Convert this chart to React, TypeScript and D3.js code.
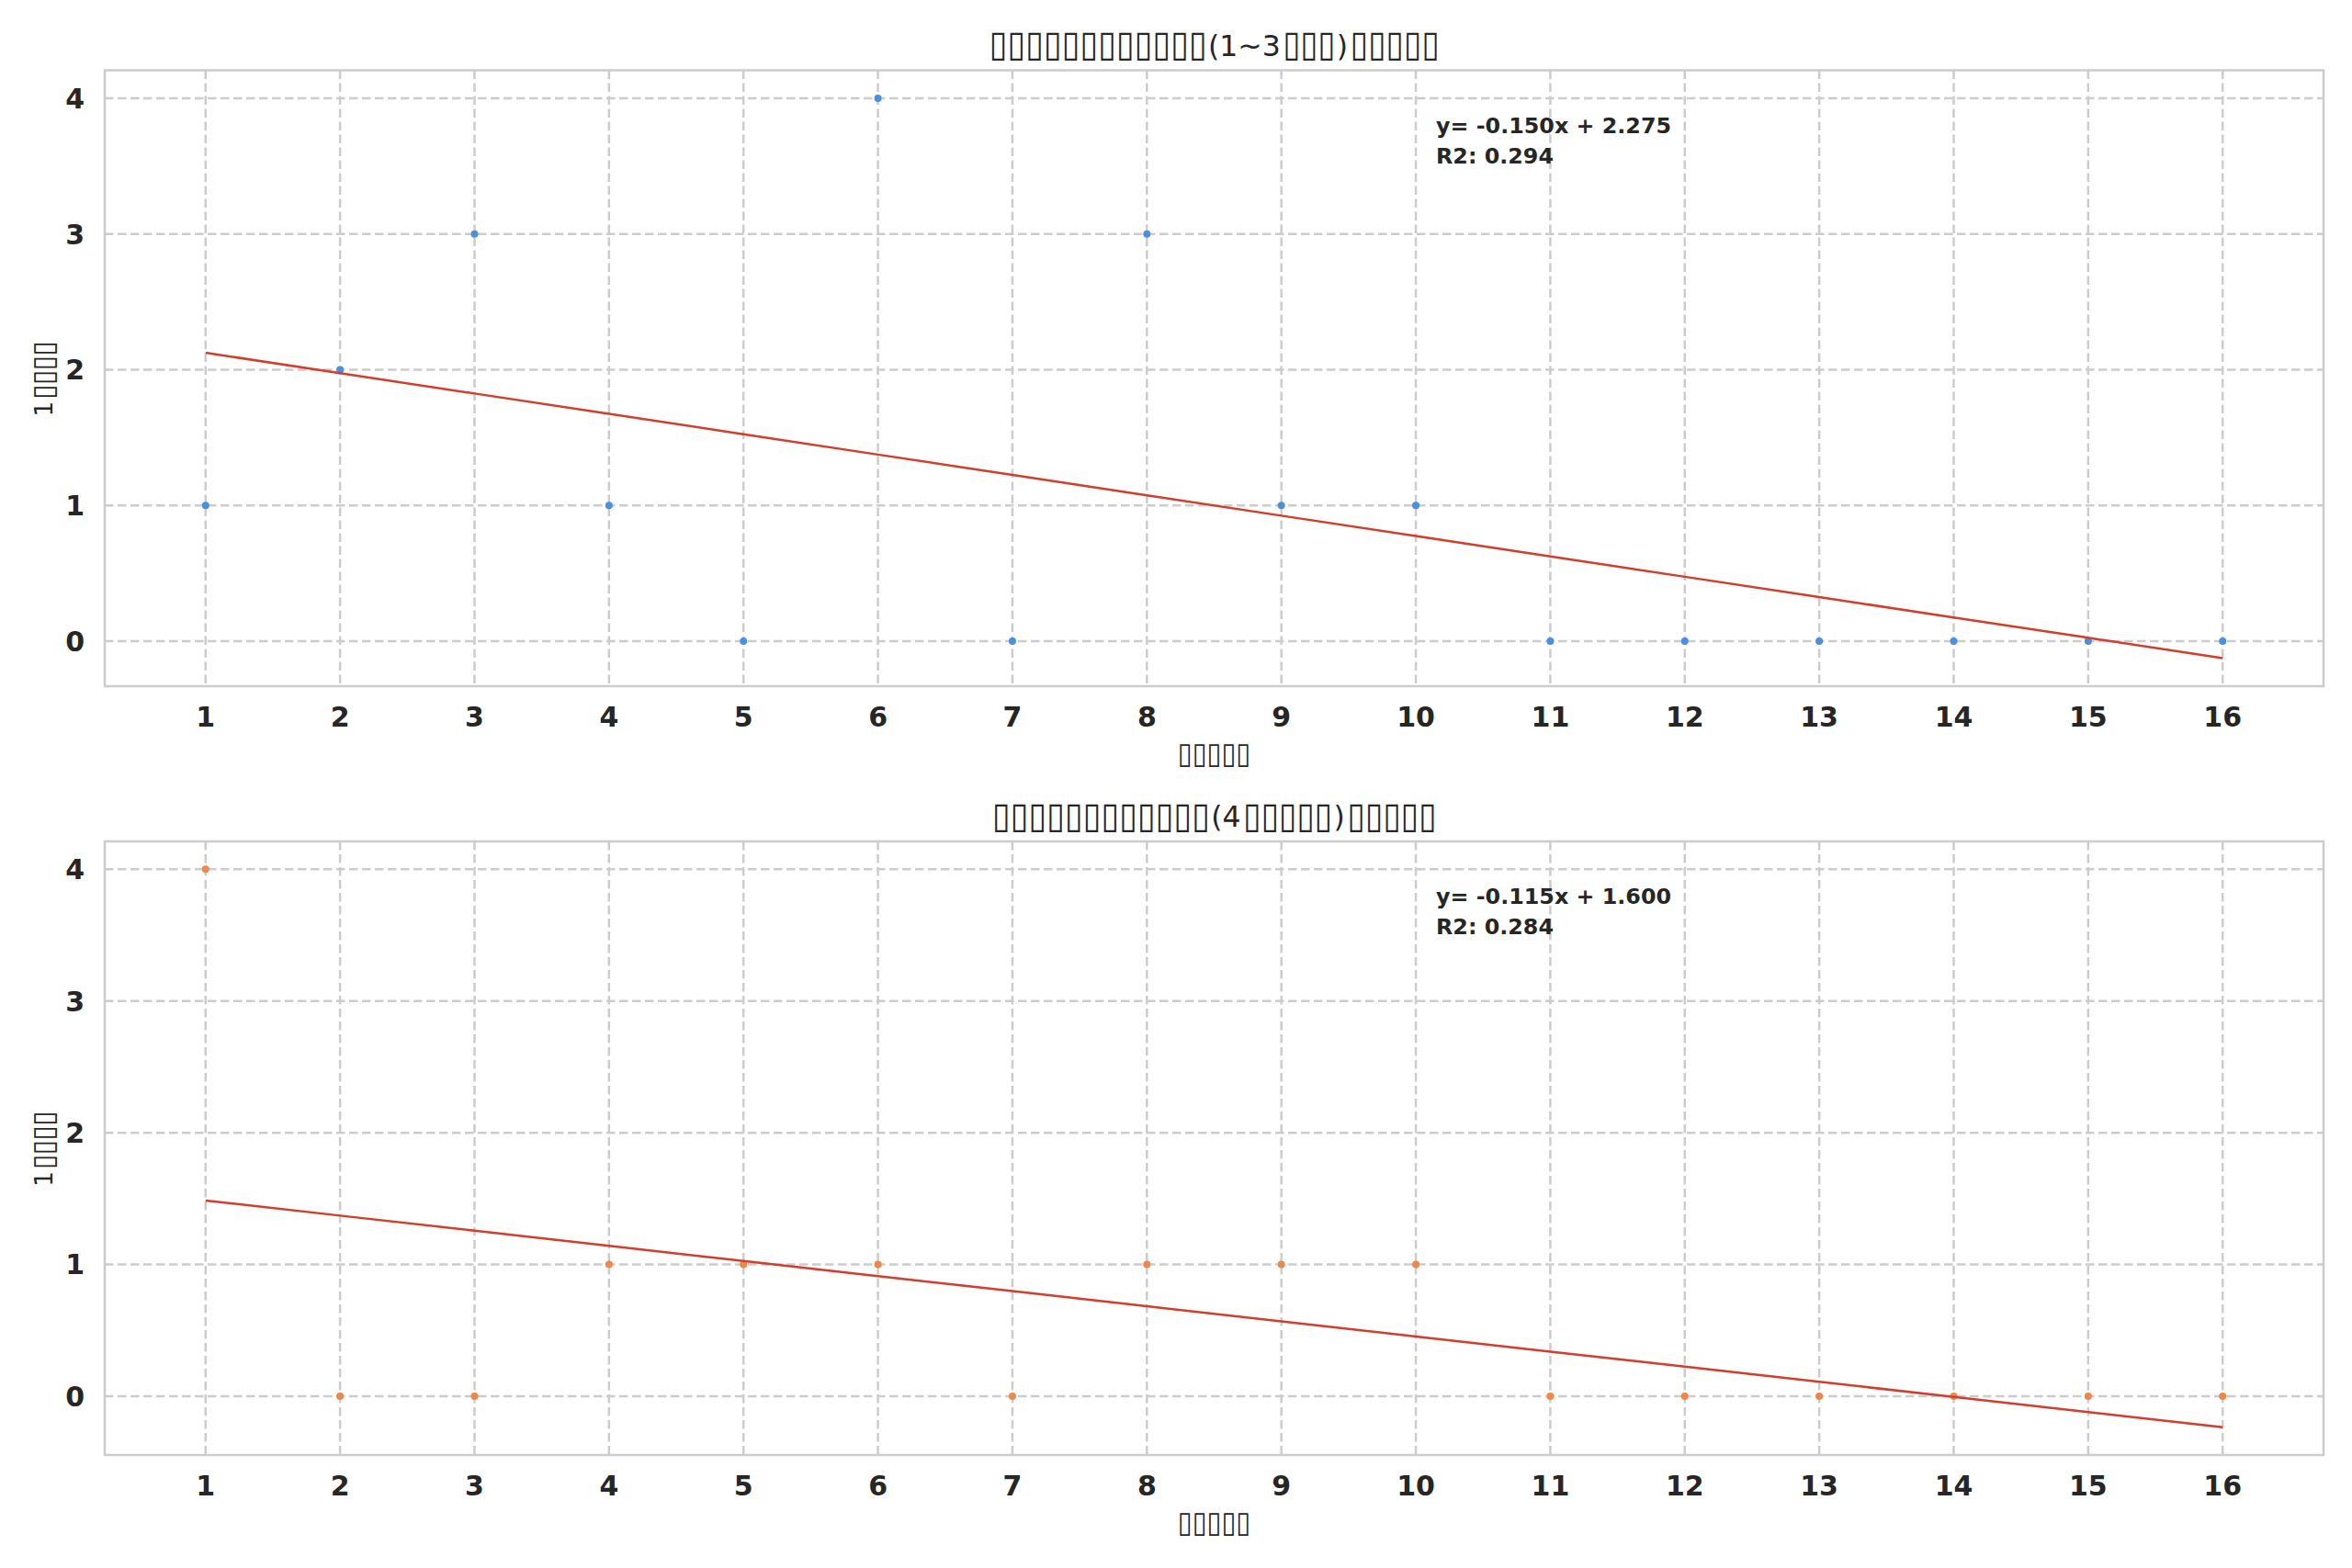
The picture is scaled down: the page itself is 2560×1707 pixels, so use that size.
import * as d3 from "d3";
import { useRef, useEffect } from "react";

// 数据：每周数值（x = 1..16）
const weeks = [1, 2, 3, 4, 5, 6, 7, 8, 9, 10, 11, 12, 13, 14, 15, 16];
const lowGroup = [1, 2, 3, 1, 0, 4, 0, 3, 1, 1, 0, 0, 0, 0, 0, 0];
const highGroup = [4, 0, 0, 1, 1, 1, 0, 1, 1, 1, 0, 0, 0, 0, 0, 0];
const yTicks = [0, 1, 2, 3, 4];

// 原图中文字缺字形，显示为方框；按段落拆开（方框段 / 普通字符段）
const BOX = "▯";
const box = (n: number) => BOX.repeat(n);
const titles = [
  [box(12), "(1~3", box(3), ")", box(5)],
  [box(12), "(4", box(5), ")", box(5)],
];
const yLabel = ["1", box(4)];
const xLabel = [box(5)];

const W = 2560;
const H = 1707;
const FONT = "DejaVu Sans, Liberation Sans, sans-serif";
const TEXT = "#262626";
const GRID = "#cccccc";

const fit = (xs: number[], ys: number[]) => {
  const mx = d3.mean(xs)!;
  const my = d3.mean(ys)!;
  const sxy = d3.sum(xs, (x, i) => (x - mx) * (ys[i] - my));
  const sxx = d3.sum(xs, (x) => (x - mx) ** 2);
  const syy = d3.sum(ys, (y) => (y - my) ** 2);
  const slope = sxy / sxx;
  const intercept = my - slope * mx;
  const r2 = (sxy * sxy) / (sxx * syy);
  return { slope, intercept, r2 };
};

// 用 canvas 量出方框字形的实际墨迹高度，便于对齐原图方框大小
const measureBox = () => {
  const ctx = document.createElement("canvas").getContext("2d")!;
  ctx.font = `100px ${FONT}`;
  const m = ctx.measureText(BOX);
  const asc = m.actualBoundingBoxAscent || 75;
  const desc = m.actualBoundingBoxDescent || 0;
  return { asc, desc, h: asc + desc || 75 };
};

// 逐段排字：方框段按原图比例（高 0.975em，基线下 0.19em，步距 0.635em），纵向拉伸
const drawParts = (
  parent: d3.Selection<SVGGElement, unknown, null, undefined>,
  parts: string[],
  size: number,
  bm: { asc: number; desc: number; h: number }
) => {
  const g = parent.append("g");
  const adv = size * 0.635;
  const k = 0.975 / (bm.h / 100);
  const ty = size * 0.19 - (k * bm.desc * size) / 100;
  let cx = 0;
  parts.forEach((s) => {
    const t = g
      .append("text")
      .attr("font-family", FONT)
      .attr("font-size", size)
      .attr("fill", TEXT)
      .text(s);
    if (s.startsWith(BOX)) {
      const w = s.length * adv;
      t.attr("transform", `translate(${cx + 1.5},${ty}) scale(1,${k})`)
        .attr("textLength", w - 3)
        .attr("lengthAdjust", "spacingAndGlyphs");
      cx += w;
    } else {
      t.attr("x", cx).attr("y", 0);
      cx += (t.node() as SVGTextElement).getComputedTextLength() + 1;
    }
  });
  g.attr("transform", `translate(${-cx / 2},0)`);
};

export default function App() {
  const svgRef = useRef<SVGSVGElement>(null);

  useEffect(() => {
    document.body.style.margin = "0";
    if (!svgRef.current) return;
    const svg = d3.select(svgRef.current);
    svg.selectAll("*").remove();
    const bm = measureBox();

    const panels = [
      { values: lowGroup, color: "#4a90dd", top: 76.5, bottom: 747, title: titles[0] },
      { values: highGroup, color: "#ee8748", top: 916, bottom: 1584, title: titles[1] },
    ];
    const left = 114;
    const right = 2529;

    const x = d3.scaleLinear().domain([0.25, 16.75]).range([left, right]);

    panels.forEach((p) => {
      const { slope, intercept, r2 } = fit(weeks, p.values);
      const lineY = weeks.map((w) => slope * w + intercept);
      const lo = Math.min(d3.min(p.values)!, d3.min(lineY)!);
      const hi = Math.max(d3.max(p.values)!, d3.max(lineY)!);
      const pad = (hi - lo) * 0.05;
      const y = d3.scaleLinear().domain([lo - pad, hi + pad]).range([p.bottom, p.top]);

      const g = svg.append("g");

      // 网格
      g.selectAll(".vgrid")
        .data(weeks)
        .enter()
        .append("line")
        .attr("x1", (d) => x(d))
        .attr("x2", (d) => x(d))
        .attr("y1", p.top)
        .attr("y2", p.bottom)
        .attr("stroke", GRID)
        .attr("stroke-width", 2.5)
        .attr("stroke-dasharray", "9.5,4.5");
      g.selectAll(".hgrid")
        .data(yTicks)
        .enter()
        .append("line")
        .attr("x1", left)
        .attr("x2", right)
        .attr("y1", (d) => y(d))
        .attr("y2", (d) => y(d))
        .attr("stroke", GRID)
        .attr("stroke-width", 2.5)
        .attr("stroke-dasharray", "9.5,4.5");

      // 边框
      g.append("rect")
        .attr("x", left)
        .attr("y", p.top)
        .attr("width", right - left)
        .attr("height", p.bottom - p.top)
        .attr("fill", "none")
        .attr("stroke", GRID)
        .attr("stroke-width", 2.5);

      // 散点
      g.selectAll(".dot")
        .data(p.values)
        .enter()
        .append("circle")
        .attr("cx", (_, i) => x(weeks[i]))
        .attr("cy", (d) => y(d))
        .attr("r", 4)
        .attr("fill", p.color);

      // 回归线
      const line = d3
        .line<number>()
        .x((_, i) => x(weeks[i]))
        .y((d) => y(d));
      g.append("path")
        .attr("d", line(lineY))
        .attr("fill", "none")
        .attr("stroke", "#d43d2c")
        .attr("stroke-width", 2.5);

      // 刻度标签
      g.selectAll(".xt")
        .data(weeks)
        .enter()
        .append("text")
        .attr("x", (d) => x(d))
        .attr("y", p.bottom + 44)
        .attr("text-anchor", "middle")
        .attr("font-family", FONT)
        .attr("font-size", 30)
        .attr("font-weight", "bold")
        .attr("fill", TEXT)
        .text((d) => d);
      g.selectAll(".yt")
        .data(yTicks)
        .enter()
        .append("text")
        .attr("x", left - 22)
        .attr("y", (d) => y(d))
        .attr("dy", "0.36em")
        .attr("text-anchor", "end")
        .attr("font-family", FONT)
        .attr("font-size", 30)
        .attr("font-weight", "bold")
        .attr("fill", TEXT)
        .text((d) => d);

      // 标题与轴标签
      const title = g
        .append("g")
        .attr("transform", `translate(${(left + right) / 2},${p.top - 16})`);
      drawParts(title, p.title, 31.5, bm);

      const xl = g
        .append("g")
        .attr("transform", `translate(${(left + right) / 2},${p.bottom + 83})`);
      drawParts(xl, xLabel, 26, bm);

      const yl = g
        .append("g")
        .attr("transform", `translate(57,${(p.top + p.bottom) / 2}) rotate(-90)`);
      drawParts(yl, yLabel, 26, bm);

      // 回归方程注释
      const ann = g
        .append("text")
        .attr("font-family", FONT)
        .attr("font-size", 23.8)
        .attr("font-weight", "bold")
        .attr("fill", TEXT);
      ann.append("tspan")
        .attr("x", left + 0.6 * (right - left))
        .attr("y", p.top + 68)
        .text(`y= ${slope.toFixed(3)}x + ${intercept.toFixed(3)}`);
      ann.append("tspan")
        .attr("x", left + 0.6 * (right - left))
        .attr("y", p.top + 101)
        .text(`R2: ${r2.toFixed(3)}`);
    });
  }, []);

  return (
    <svg
      ref={svgRef}
      width={W}
      height={H}
      viewBox={`0 0 ${W} ${H}`}
      style={{ display: "block", background: "#fff" }}
    />
  );
}
